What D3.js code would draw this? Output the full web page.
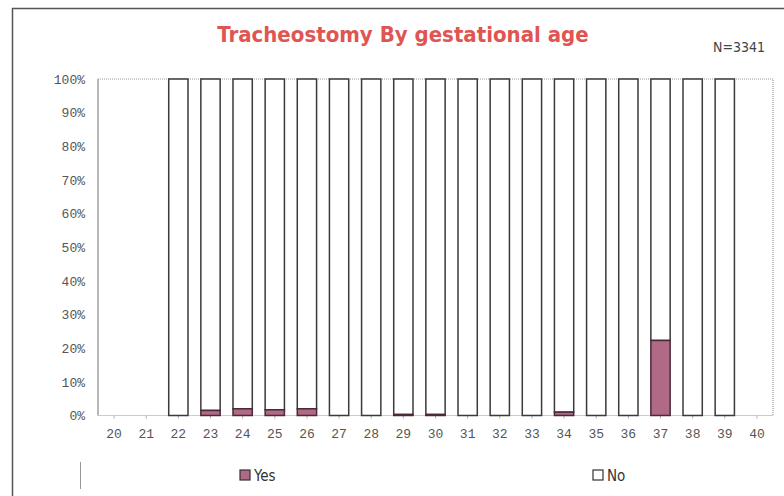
<!DOCTYPE html>
<html>
<head>
<meta charset="utf-8">
<script src="https://cdn.jsdelivr.net/npm/d3@7"></script>
<style>
  body { margin: 0; background: #fff; }
  svg { display: block; }
</style>
</head>
<body>
<div class="chart"></div>
<script>
const W = 784, H = 496;
const ages = d3.range(20, 41).map(String);
// share of infants with a tracheostomy, per gestational age (null = no infants)
const yesPct = [null, null, 0, 1.5, 2.0, 1.7, 2.0, 0, 0, 0.3, 0.3, 0, 0, 0, 1.0, 0, 0, 22.3, 0, 0, null];
const yTicks = d3.range(0, 101, 10);
const seriesNames = ["Yes", "No"];

const margin = { left: 98, right: 11, top: 79, bottom: 80.5 };
const plotR = W - margin.right;
const plotB = H - margin.bottom;

const svg = d3.select(".chart").append("svg")
    .attr("width", W)
    .attr("height", H);

// outer frame
svg.append("rect")
    .attr("x", 12.5).attr("y", 8.5)
    .attr("width", 800).attr("height", 500)
    .attr("fill", "none")
    .attr("stroke", "#555")
    .attr("stroke-width", 1.5);

svg.append("text")
    .attr("x", 403).attr("y", 42)
    .attr("text-anchor", "middle")
    .attr("font-family", "'DejaVu Sans Condensed', 'DejaVu Sans', sans-serif")
    .attr("font-stretch", "condensed")
    .attr("font-weight", "bold")
    .attr("font-size", 22)
    .attr("fill", "#e05552")
    .text("Tracheostomy By gestational age");

svg.append("text")
    .attr("x", 765).attr("y", 52)
    .attr("text-anchor", "end")
    .attr("font-family", "'DejaVu Sans Condensed', 'DejaVu Sans', sans-serif")
    .attr("font-size", 14)
    .attr("fill", "#444")
    .text("N=3341");

const x = d3.scaleBand()
    .domain(ages)
    .range([margin.left, plotR])
    .paddingInner(0.4)
    .paddingOuter(0.2);

const y = d3.scaleLinear()
    .domain([0, 100])
    .range([plotB, margin.top]);

// plot frame
const plot = svg.append("g");
plot.append("line")
    .attr("x1", margin.left).attr("x2", margin.left)
    .attr("y1", margin.top).attr("y2", plotB)
    .attr("stroke", "#888").attr("stroke-width", 1.2);
plot.append("path")
    .attr("d", `M${margin.left},${margin.top}H${plotR}V${plotB}H${margin.left}`)
    .attr("fill", "none")
    .attr("stroke", "#999")
    .attr("stroke-width", 1.2)
    .attr("stroke-dasharray", "1,1");

// y axis labels
svg.append("g")
    .attr("transform", `translate(${margin.left - 10},0)`)
    .call(d3.axisLeft(y).tickValues(yTicks).tickFormat(d => d + "%").tickSize(0))
    .call(g => g.select(".domain").remove())
    .call(g => g.selectAll("text")
        .attr("font-family", "'Liberation Mono', 'DejaVu Sans Mono', monospace")
        .attr("font-size", 13)
        .attr("fill", "#555"));

// x axis labels
svg.append("g")
    .attr("transform", `translate(0,${plotB})`)
    .call(d3.axisBottom(x).tickSize(3).tickPadding(10))
    .call(g => g.select(".domain").remove())
    .call(g => g.selectAll("line").attr("stroke", "#aaa"))
    .call(g => g.selectAll("text")
        .attr("font-family", "'Liberation Mono', 'DejaVu Sans Mono', monospace")
        .attr("font-size", 13)
        .attr("fill", "#555"));

const rows = ages.map((a, i) => ({ age: a, yes: yesPct[i] })).filter(d => d.yes !== null);

const bars = svg.append("g");
bars.selectAll("rect.no")
    .data(rows)
    .join("rect")
    .attr("class", "no")
    .attr("x", d => x(d.age))
    .attr("y", d => y(100))
    .attr("width", x.bandwidth())
    .attr("height", d => y(d.yes) - y(100))
    .attr("fill", "#fff")
    .attr("stroke", "#3a3a3a")
    .attr("stroke-width", 1.5);

bars.selectAll("rect.yes")
    .data(rows.filter(d => d.yes > 0))
    .join("rect")
    .attr("class", "yes")
    .attr("x", d => x(d.age))
    .attr("y", d => y(d.yes))
    .attr("width", x.bandwidth())
    .attr("height", d => y(0) - y(d.yes))
    .attr("fill", "#b06a86")
    .attr("stroke", "#4a2a38")
    .attr("stroke-width", 1.5);

// legend
svg.append("line")
    .attr("x1", 80.5).attr("x2", 80.5)
    .attr("y1", 462).attr("y2", 489)
    .attr("stroke", "#999");

const legendX = [240, 593];
const legend = svg.append("g")
    .selectAll("g")
    .data(seriesNames)
    .join("g")
    .attr("transform", (d, i) => `translate(${legendX[i]},470)`);
legend.append("rect")
    .attr("width", 10).attr("height", 10)
    .attr("fill", (d, i) => i === 0 ? "#b06a86" : "#fff")
    .attr("stroke", "#333")
    .attr("stroke-width", 1.2);
legend.append("text")
    .attr("x", 14).attr("y", 10.5)
    .attr("font-family", "'DejaVu Sans Condensed', 'DejaVu Sans', sans-serif")
    .attr("font-size", 15)
    .attr("fill", "#333")
    .text(d => d);
</script>
</body>
</html>
